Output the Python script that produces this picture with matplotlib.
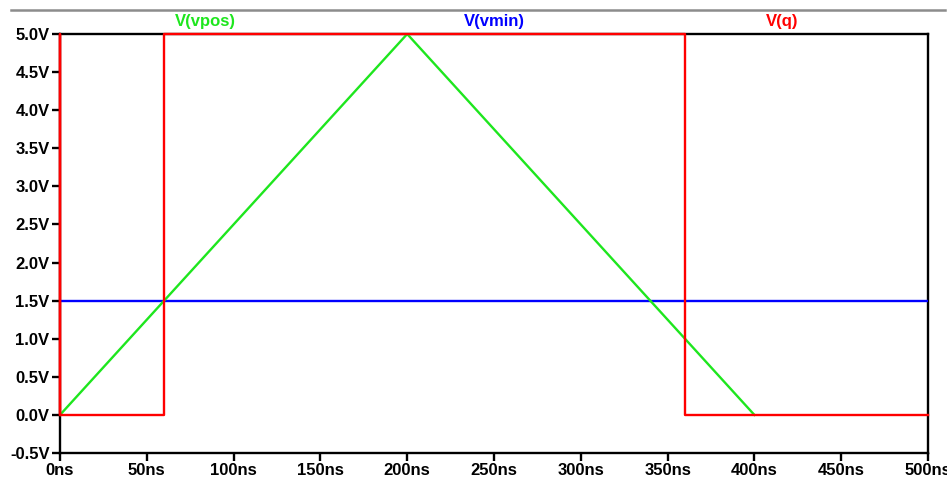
import matplotlib
matplotlib.use("Agg")
import matplotlib.pyplot as plt
from matplotlib.lines import Line2D

plt.rcParams['font.family'] = ['Liberation Sans', 'DejaVu Sans']
plt.rcParams['font.weight'] = 'bold'

# transient waveforms (time in ns, voltage in V)
t_vpos = [0, 200, 400]
v_vpos = [0.0, 5.0, 0.0]

t_vmin = [0, 500]
v_vmin = [1.5, 1.5]

t_q = [0, 0, 0, 60, 60, 360, 360, 500]
v_q = [0.0, 5.0, 0.0, 0.0, 5.0, 5.0, 0.0, 0.0]

xticks = [0, 50, 100, 150, 200, 250, 300, 350, 400, 450, 500]
yticks = [-0.5, 0.0, 0.5, 1.0, 1.5, 2.0, 2.5, 3.0, 3.5, 4.0, 4.5, 5.0]

green = '#1ee61e'
blue = '#0000ff'
red = '#ff0000'

fig = plt.figure(figsize=(9.47, 4.86), dpi=100)
ax = fig.add_axes([60 / 947, 1 - 453 / 486, 868 / 947, 419 / 486])

ax.plot(t_vmin, v_vmin, color=blue, lw=1.7, zorder=3)
ax.plot(t_vpos, v_vpos, color=green, lw=1.7, zorder=4)
ax.plot(t_q, v_q, color=red, lw=1.7, zorder=5, clip_on=False)

ax.set_xlim(0, 500)
ax.set_ylim(-0.5, 5.0)
ax.set_xticks(xticks)
ax.set_xticklabels([f"{x}ns" for x in xticks])
ax.set_yticks(yticks)
ax.set_yticklabels([f"{y:.1f}V" for y in yticks])

for s in ax.spines.values():
    s.set_linewidth(1.7)
    s.set_color('black')
ax.tick_params(axis='both', direction='out', length=6, width=1.7,
               labelsize=12, pad=1.5, colors='black')

# trace names above the plot
ax.text(0.167, 1.012, "V(vpos)", color=green, transform=ax.transAxes,
        ha='center', va='bottom', fontsize=12, fontweight='bold')
ax.text(0.5, 1.012, "V(vmin)", color=blue, transform=ax.transAxes,
        ha='center', va='bottom', fontsize=12, fontweight='bold')
ax.text(0.832, 1.012, "V(q)", color=red, transform=ax.transAxes,
        ha='center', va='bottom', fontsize=12, fontweight='bold')

# separator line at the top of the window
fig.add_artist(Line2D([11 / 947, 945 / 947], [1 - 10 / 486, 1 - 10 / 486],
                      color='#8c8c8c', lw=1.8, transform=fig.transFigure))

fig.savefig("out.png", dpi=100)
